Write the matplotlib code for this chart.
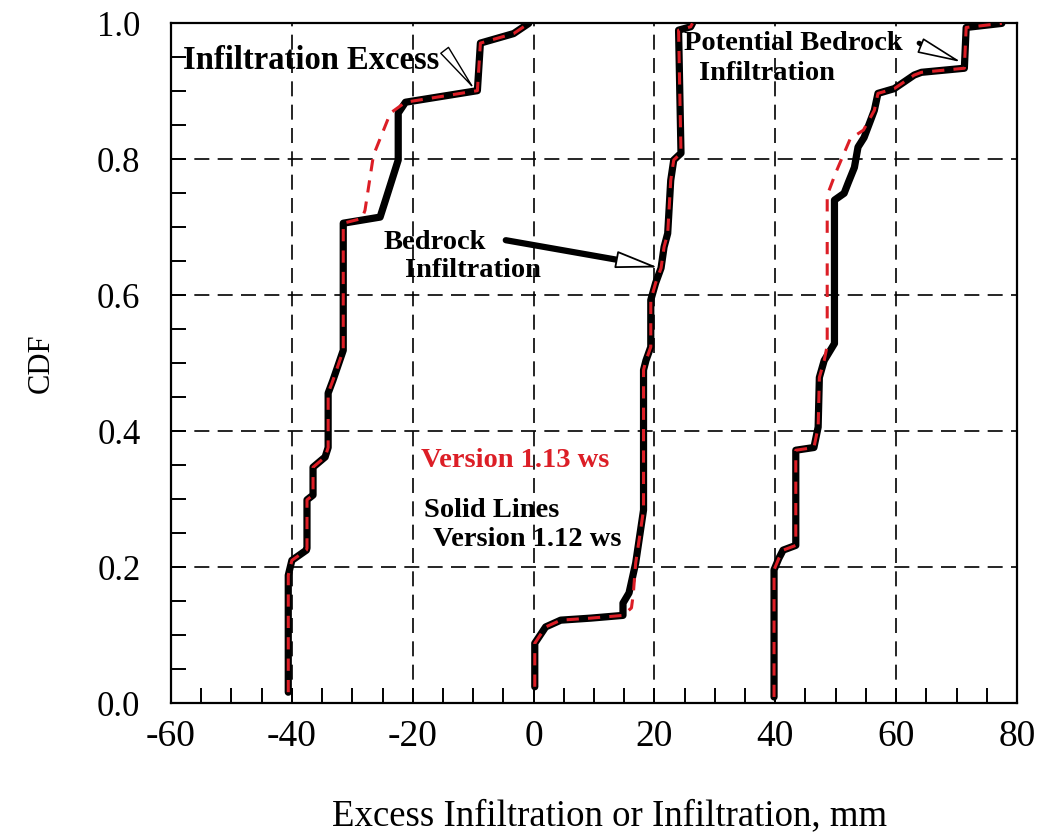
import matplotlib
matplotlib.use('Agg')
import matplotlib.pyplot as plt
from matplotlib.ticker import MultipleLocator

plt.rcParams['font.family'] = ['Liberation Serif', 'DejaVu Serif']
plt.rcParams['axes.unicode_minus'] = False

# Infiltration Excess (version 1.12 solid, 1.13 dashed)
ie_112_x = [-40.6, -40.6, -40.0, -37.6, -37.5, -37.5, -36.5, -36.5, -34.5, -34.0, -34.0, -33.2,
            -31.5, -31.5, -25.4, -24.5, -22.4, -22.4, -21.2, -9.3, -8.8, -3.3, -0.8]
ie_112_y = [0.016, 0.188, 0.210, 0.225, 0.228, 0.299, 0.306, 0.347, 0.362, 0.376, 0.456, 0.475,
            0.519, 0.706, 0.715, 0.740, 0.799, 0.868, 0.884, 0.901, 0.971, 0.985, 1.0]
ie_113_x = [-40.6, -40.6, -40.0, -37.6, -37.5, -37.5, -36.5, -36.5, -34.5, -34.0, -34.0, -33.2,
            -31.5, -31.5, -28.4, -27.9, -26.5, -23.7, -21.2, -9.3, -8.8, -3.3, -0.8]
ie_113_y = [0.016, 0.188, 0.210, 0.225, 0.228, 0.299, 0.306, 0.347, 0.362, 0.376, 0.456, 0.475,
            0.519, 0.706, 0.713, 0.725, 0.806, 0.868, 0.884, 0.901, 0.971, 0.985, 1.0]

# Bedrock Infiltration
br_112_x = [0.2, 0.2, 2.0, 4.5, 9.5, 14.8, 14.8, 15.8, 16.9, 17.7, 18.2, 18.2, 18.6, 19.4,
            19.4, 20.2, 21.1, 21.6, 22.2, 22.7, 23.2, 24.4, 24.0, 26.0, 26.3]
br_112_y = [0.024, 0.088, 0.112, 0.122, 0.125, 0.129, 0.147, 0.162, 0.206, 0.254, 0.284, 0.490,
            0.504, 0.524, 0.593, 0.618, 0.640, 0.671, 0.691, 0.769, 0.799, 0.809, 0.990, 0.995, 1.0]
br_113_x = [0.2, 0.2, 2.0, 4.5, 9.5, 14.8, 16.2, 16.5, 16.9, 17.7, 18.2, 18.2, 18.6, 19.4,
            19.4, 20.2, 21.1, 21.6, 22.2, 22.7, 23.2, 24.4, 24.0, 26.0, 26.3]
br_113_y = [0.024, 0.088, 0.112, 0.122, 0.125, 0.129, 0.140, 0.160, 0.206, 0.254, 0.284, 0.490,
            0.504, 0.524, 0.593, 0.618, 0.640, 0.671, 0.691, 0.769, 0.799, 0.809, 0.990, 0.995, 1.0]

# Potential Bedrock Infiltration
pb_112_x = [39.8, 39.8, 40.6, 41.3, 43.4, 43.4, 46.4, 47.1, 47.3, 48.1, 49.8, 49.8, 51.4, 52.1,
            53.1, 53.7, 54.7, 56.4, 57.0, 59.7, 63.0, 64.2, 71.3, 71.6, 77.5]
pb_112_y = [0.009, 0.196, 0.213, 0.225, 0.232, 0.372, 0.376, 0.406, 0.479, 0.504, 0.529, 0.740,
            0.750, 0.766, 0.788, 0.818, 0.832, 0.872, 0.897, 0.904, 0.924, 0.928, 0.934, 0.994, 1.0]
pb_113_x = [39.8, 39.8, 40.6, 41.3, 43.4, 43.4, 46.4, 47.1, 47.3, 48.1, 48.6, 48.6, 50.0, 52.4,
            54.6, 56.4, 57.0, 59.7, 63.0, 64.2, 71.3, 71.6, 77.5]
pb_113_y = [0.009, 0.196, 0.213, 0.225, 0.232, 0.372, 0.376, 0.406, 0.479, 0.504, 0.526, 0.747,
            0.780, 0.830, 0.843, 0.872, 0.897, 0.904, 0.924, 0.928, 0.934, 0.994, 1.0]

x_ticks = [-60, -40, -20, 0, 20, 40, 60, 80]
y_ticks = [0.0, 0.2, 0.4, 0.6, 0.8, 1.0]

red = '#dc1e26'

fig = plt.figure(figsize=(10.43, 8.35), dpi=100)
ax = fig.add_axes([0.164, 0.158, 0.811, 0.814])

for xs, ys in [(ie_112_x, ie_112_y), (br_112_x, br_112_y), (pb_112_x, pb_112_y)]:
    ax.plot(xs, ys, color='black', lw=5.2, solid_capstyle='round', solid_joinstyle='round', zorder=3)
for xs, ys in [(ie_113_x, ie_113_y), (br_113_x, br_113_y), (pb_113_x, pb_113_y)]:
    ax.plot(xs, ys, color=red, lw=2.2, dashes=(4, 3), zorder=4)

ax.set_xlim(-60, 80)
ax.set_ylim(0, 1.0)
ax.set_xticks(x_ticks)
ax.set_yticks(y_ticks)
ax.set_yticklabels([f'{v:.1f}' for v in y_ticks])
ax.xaxis.set_minor_locator(MultipleLocator(5))
ax.yaxis.set_minor_locator(MultipleLocator(0.05))
ax.grid(True, which='major', color='black', lw=1.2, linestyle=(0, (9, 5)))
ax.tick_params(which='both', direction='in', top=False, right=False, width=1.4, color='black')
ax.tick_params(which='major', length=11)
ax.tick_params(which='minor', length=11)
ax.tick_params(axis='x', labelsize=27, pad=12)
ax.tick_params(axis='y', labelsize=25, pad=22)
for s in ax.spines.values():
    s.set_linewidth(1.6)

ax.set_xlabel('Excess Infiltration or Infiltration, mm', fontsize=26.5)
ax.xaxis.set_label_coords(0.519, -0.14)
ax.set_ylabel('CDF', fontsize=22, labelpad=30)

# annotations
ax.text(-58.0, 0.945, 'Infiltration Excess', fontsize=23.5, fontweight='bold', va='center', zorder=5)
ax.annotate('', xy=(-9.6, 0.901), xytext=(-14.0, 0.952),
            arrowprops=dict(arrowstyle='-|>,head_length=3.2,head_width=0.35', fc='white', ec='black',
                            lw=1.0, shrinkA=0, shrinkB=0))

ax.text(-24.9, 0.678, 'Bedrock', fontsize=20.5, fontweight='bold', va='center', zorder=5)
ax.text(-21.2, 0.637, 'Infiltration', fontsize=20.5, fontweight='bold', va='center', zorder=5)
ax.annotate('', xy=(14.6, 0.651), xytext=(-4.6, 0.681),
            arrowprops=dict(arrowstyle='-', color='black', lw=4.5, shrinkA=0, shrinkB=0,
                            capstyle='round'))
ax.annotate('', xy=(20.6, 0.641), xytext=(14.0, 0.652),
            arrowprops=dict(arrowstyle='-|>,head_length=2.7,head_width=0.55', fc='white', ec='black',
                            lw=1.3, shrinkA=0, shrinkB=0))

ax.text(24.9, 0.971, 'Potential Bedrock', fontsize=20.5, fontweight='bold', va='center', zorder=5)
ax.text(27.4, 0.926, 'Infiltration', fontsize=20.5, fontweight='bold', va='center', zorder=5)
ax.annotate('', xy=(65.6, 0.962), xytext=(63.8, 0.971),
            arrowprops=dict(arrowstyle='-', color='black', lw=3.5, shrinkA=0, shrinkB=0))
ax.annotate('', xy=(70.8, 0.943), xytext=(65.0, 0.964),
            arrowprops=dict(arrowstyle='-|>,head_length=2.8,head_width=0.5', fc='white', ec='black',
                            lw=1.2, shrinkA=0, shrinkB=0))

ax.text(-18.7, 0.357, 'Version 1.13 ws', fontsize=20.5, fontweight='bold', color=red, va='center', zorder=5)
ax.text(-18.2, 0.284, 'Solid Lines', fontsize=20.5, fontweight='bold', va='center', zorder=5)
ax.text(-16.6, 0.240, 'Version 1.12 ws', fontsize=20.5, fontweight='bold', va='center', zorder=5)

fig.savefig('out.png', dpi=100)
